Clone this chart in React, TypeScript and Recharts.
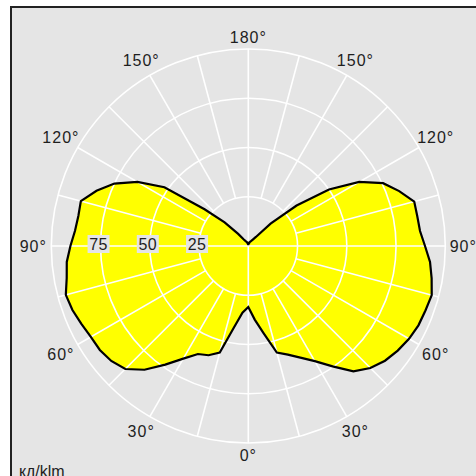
import { PolarAngleAxis, PolarGrid, PolarRadiusAxis, Radar, RadarChart } from 'recharts';

// gamma angles, 0° at the bottom, 180° at the top
const gammaAngles = [
  0, 5, 10, 15, 20, 25, 30, 35, 40, 45, 50, 55, 60, 65, 70, 75, 80, 85, 90,
  95, 100, 105, 110, 115, 120, 125, 130, 135, 140, 145, 150, 155, 160, 165, 170, 175, 180,
];

// cd/klm, left half of the diagram
const leftPlane = [
  31, 34, 42, 56, 59, 60.5, 66, 73.5, 82, 88.3, 90.8, 92, 92.3, 93.5, 95, 95.9, 93.6, 92.5, 90.3,
  88.3, 87.6, 88, 82, 75, 65, 52, 29, 17, 8, 4, 3, 2.5, 2, 1.5, 1, 1, 1,
];

// cd/klm, right half of the diagram
const rightPlane = [
  31.5, 37.5, 45, 56, 58.7, 62.5, 67.5, 74.6, 83, 87.6, 90.6, 92.6, 94.2, 95.3, 95.7, 96.4, 94.5, 92.6, 89.7,
  87.5, 87.1, 87.2, 81.5, 75.5, 65, 50, 32, 16, 6, 4, 3, 2.5, 2, 1.5, 1.5, 1, 1,
];

const radiusDomain = [0, 100];
const labelledRadii = [25, 50, 75];
const unitLabel = 'кд/klm';

const data = [
  ...gammaAngles.map((deg, i) => ({ id: `l${deg}`, deg, value: leftPlane[i] })),
  ...gammaAngles
    .map((deg, i) => ({ id: `r${deg}`, deg, value: rightPlane[i] }))
    .slice(1, -1)
    .reverse(),
];
const degById: Record<string, number> = {};
data.forEach((d) => (degById[d.id] = d.deg));

const W = 476;
const H = 476;
const CX = 248.3;
const CY = 246;
const R = 197;
const FONT = '"Liberation Sans", Arial, sans-serif';
const INK = '#1e1e1e';
const GRID = '#ffffff';

function AngleTick(props: any) {
  const { payload } = props;
  const deg = degById[payload.value];
  if (deg === undefined || deg % 15 !== 0) return null;
  const a = (-payload.coordinate * Math.PI) / 180;
  const cos = Math.cos(a);
  const sin = Math.sin(a);
  const r0 = deg % 90 === 0 ? 0 : R / 4;
  const lr = 203 + 12 * Math.abs(cos) + 6 * Math.abs(sin);
  return (
    <g>
      <line
        x1={CX + r0 * cos}
        y1={CY + r0 * sin}
        x2={CX + R * cos}
        y2={CY + R * sin}
        stroke={GRID}
        strokeWidth={1.6}
      />
      {deg % 30 === 0 && (
        <text
          x={CX + lr * cos}
          y={CY + lr * sin}
          textAnchor='middle'
          dominantBaseline='central'
          fill={INK}
          fontSize={16}
          letterSpacing={1}
          fontFamily={FONT}
        >
          {deg}°
        </text>
      )}
    </g>
  );
}

function RadiusTick(props: any) {
  const { payload } = props;
  if (!labelledRadii.includes(payload.value)) return null;
  const x = CX - payload.coordinate - 2;
  const y = CY - 2;
  return (
    <g>
      <rect x={x - 11} y={y - 9} width={22} height={18} fill='#e5e5e5' />
      <text
        x={x}
        y={y}
        textAnchor='middle'
        dominantBaseline='central'
        fill={INK}
        fontSize={16}
        letterSpacing={0.5}
        fontFamily={FONT}
      >
        {payload.value}
      </text>
    </g>
  );
}

export default function App() {
  return (
    <div
      style={{
        position: 'absolute',
        left: 0,
        top: 0,
        width: W,
        height: H,
        overflow: 'hidden',
        fontFamily: FONT,
      }}
    >
      <div
        style={{
          position: 'absolute',
          left: 10,
          top: 6,
          width: 520,
          height: 520,
          background: '#e5e5e5',
          border: '2px solid #222',
        }}
      />
      <div style={{ position: 'absolute', left: 0, top: 0 }}>
        <RadarChart
          width={W}
          height={H}
          data={data}
          cx={CX}
          cy={CY}
          outerRadius={R}
          startAngle={270}
          endAngle={-90}
          margin={{ top: 0, right: 0, bottom: 0, left: 0 }}
        >
          <Radar
            dataKey='value'
            fill='#ffff00'
            fillOpacity={1}
            stroke='none'
            isAnimationActive={false}
          />
          <PolarGrid
            gridType='circle'
            radialLines={false}
            stroke={GRID}
            strokeWidth={1.6}
            zIndex={150}
          />
          <PolarAngleAxis
            dataKey='id'
            axisLine={false}
            tickLine={false}
            tick={AngleTick}
            zIndex={500}
          />
          <Radar
            dataKey='value'
            fill='none'
            fillOpacity={0}
            stroke='#000'
            strokeWidth={2.2}
            isAnimationActive={false}
            zIndex={600}
          />
          <PolarRadiusAxis
            angle={180}
            domain={radiusDomain}
            tickCount={5}
            axisLine={false}
            tickLine={false}
            tick={RadiusTick}
            zIndex={700}
          />
        </RadarChart>
      </div>
      <div
        style={{
          position: 'absolute',
          left: 19,
          top: 464,
          fontSize: 16,
          lineHeight: '16px',
          color: INK,
          whiteSpace: 'nowrap',
        }}
      >
        {unitLabel}
      </div>
    </div>
  );
}
